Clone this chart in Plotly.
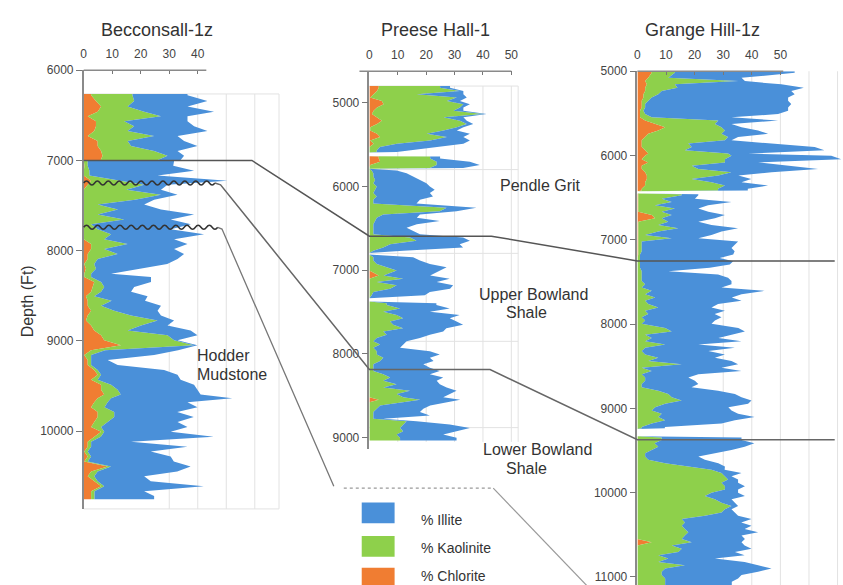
import plotly.graph_objects as go

W, H = 843, 585

# ---------------- Becconsall-1z ----------------
BEC_DEPTH = [
    6263, 6277, 6340, 6401, 6460, 6511, 6566, 6620, 6675, 6730,
    6785, 6840, 6894, 6949, 6995, 7007, 7059, 7113, 7168, 7226,
    7270, 7325, 7380, 7435, 7489, 7544, 7599, 7654, 7708, 7763,
    7818, 7873, 7927, 7982, 8037, 8092, 8147, 8201, 8256, 8293,
    8347, 8402, 8457, 8505, 8555, 8610, 8665, 8720, 8774, 8829,
    8884, 8939, 8993, 9048, 9103, 9158, 9212, 9267, 9322, 9377,
    9432, 9486, 9541, 9596, 9636, 9680, 9735, 9789, 9844, 9899,
    9954, 10008, 10063, 10118, 10173, 10227, 10282, 10337, 10392, 10447,
    10501, 10556, 10611, 10666, 10720, 10755,
]
BEC_CHLORITE = [
    2.6, 2.6, 4.3, 6.1, 4.9, 1.4, 4.3, 4.3, 3.7, 1.4,
    4.9, 4.9, 6.1, 6.6, 6.0, 0.0, 0.3, 0.0, 0.0, 2.6,
    1.4, 0.0, 0.0, 0.0, 0.0, 0.0, 0.0, 0.0, 0.0, 0.0,
    0.0, 0.0, 2.6, 2.6, 1.4, 1.4, 0.2, 0.8, 0.2, 0.2,
    3.7, 3.1, 2.6, 0.8, 1.4, 1.4, 2.6, 1.4, 0.8, 2.6,
    3.7, 6.1, 7.2, 13.1, 2.6, 0.2, 1.4, 1.4, 3.7, 4.9,
    2.6, 6.1, 6.1, 7.2, 4.9, 3.7, 2.6, 4.9, 4.9, 3.7,
    2.6, 6.1, 3.7, 1.4, 1.4, 0.2, 1.4, 0.2, 8.4, 2.6,
    1.4, 3.7, 6.1, 2.6, 2.6, 2.6,
]
BEC_KAOLINITE = [
    14.5, 14.5, 13.4, 9.3, 16.3, 25.7, 9.9, 13.4, 11.7, 23.3,
    10.5, 11.7, 18.6, 22.8, 20.0, 1.4, 1.1, 2.0, 2.0, 10.5,
    19.8, 15.0, 27.1, 18.0, 4.9, 12.0, 4.9, 14.2, 2.6, 4.9,
    9.6, 7.2, 12.8, 4.6, 10.5, 3.5, 3.5, 3.5, 2.4, 2.4,
    2.4, 4.1, 3.5, 2.9, 8.4, 4.7, 8.1, 15.2, 25.1, 17.5,
    11.7, 23.3, 24.5, 25.6, 4.9, 2.4, 1.2, 1.2, 1.2, 1.2,
    2.3, 3.5, 5.8, 5.8, 4.7, 4.7, 4.7, 5.8, 5.8, 4.7,
    3.5, 1.1, 2.3, 1.2, 1.2, 1.2, 1.2, 1.2, 1.2, 2.3,
    2.3, 1.2, 1.1, 1.2, 1.2, 1.2,
]
BEC_ILLITE = [
    19.3, 19.3, 25.7, 21.0, 24.5, 9.3, 22.2, 21.0, 28.0, 8.2,
    19.8, 23.3, 8.2, 5.8, 8.0, 30.3, 30.0, 36.7, 23.9, 37.3,
    8.2, 12.1, 5.8, 6.7, 16.3, 15.1, 33.8, 16.3, 35.0, 25.6,
    32.6, 24.5, 21.0, 24.5, 23.3, 28.0, 25.6, 14.5, 7.0, 21.0,
    17.5, 10.5, 10.5, 18.7, 11.7, 21.0, 15.2, 10.5, 5.8, 9.3,
    22.1, 10.5, 1.2, 1.2, 25.6, 22.1, 5.8, 9.3, 23.3, 26.8,
    29.1, 29.1, 28.0, 28.0, 42.5, 28.0, 32.6, 22.1, 27.9, 24.5,
    30.3, 23.3, 39.6, 14.0, 33.8, 22.1, 27.9, 30.2, 27.9, 27.9,
    17.5, 18.6, 34.9, 17.4, 20.9, 20.9,
]

# ---------------- Preese Hall-1 ----------------
PH_DEPTH = [
    4803, 4823, 4862, 4901, 4941, 4980, 5019, 5058, 5098, 5137,
    5176, 5216, 5255, 5294, 5334, 5373, 5412, 5452, 5491, 5530,
    5570, 5590, 5595, 5640, 5645, 5668, 5707, 5746, 5780, 5790,
    5812, 5845, 5884, 5923, 5963, 6002, 6041, 6081, 6120, 6159,
    6206, 6257, 6297, 6336, 6375, 6415, 6454, 6493, 6533, 6572,
    6611, 6650, 6690, 6729, 6768, 6795, 6815, 6847, 6886, 6926,
    6965, 7005, 7064, 7103, 7142, 7182, 7221, 7260, 7299, 7335,
    7375, 7395, 7417, 7457, 7496, 7535, 7575, 7614, 7653, 7693,
    7732, 7771, 7810, 7850, 7889, 7928, 7968, 8007, 8046, 8086,
    8125, 8164, 8204, 8243, 8282, 8321, 8361, 8400, 8439, 8479,
    8518, 8546, 8577, 8616, 8656, 8695, 8734, 8774, 8805, 8844,
    8884, 8923, 8962, 9002, 9035,
]
PH_CHLORITE = [
    3.3, 3.3, 2.7, 1.5, 0.3, 4.4, 5.0, 2.7, 1.5, 0.9,
    2.7, 4.4, 2.7, 0.3, 0.3, 2.7, 3.8, 0.3, 1.5, 0.0,
    0.0, 0.0, 0.0, 0.0, 3.3, 3.3, 3.8, 0.3, 0.0, 0.0,
    0, 0, 0, 0, 0, 0, 0, 0, 0, 0,
    0, 0, 0, 0, 0, 0, 0, 0, 0, 0,
    0, 0, 0, 0, 0, 0, 0, 0, 0, 0,
    0, 0, 3.3, 0, 0, 0, 0, 0, 0, 0,
    0, 0, 0, 0, 0, 0, 0, 0, 0, 0,
    0, 0, 0, 0, 0, 0, 0, 0, 0, 0,
    0, 0, 0, 0, 0, 0, 0, 0, 0, 0,
    0, 3.3, 0, 0, 0, 0, 0, 0, 0, 0,
    0, 0, 0, 0, 0,
]
PH_KAOLINITE = [
    21.6, 21.6, 29.2, 15.2, 30.5, 22.9, 28.1, 29.2, 28.1, 39.2,
    23.4, 27.5, 31.6, 30.5, 25.8, 17.5, 23.5, 21.1, 8.2, 3.7,
    2.6, 2.6, 0.0, 0.0, 18.1, 18.1, 19.9, 23.4, 21.3, 0.0,
    0.8, 1.4, 1.4, 2.0, 1.4, 2.6, 2.0, 1.4, 2.6, 1.4,
    1.4, 27.2, 24.8, 4.9, 2.6, 2.0, 1.4, 1.4, 1.4, 1.4,
    14.3, 16.6, 7.3, 4.9, 1.4, 0.0, 0.0, 1.4, 1.4, 2.6,
    6.1, 9.6, 1.7, 11.9, 2.6, 9.6, 7.3, 1.4, 0.8, 0.0,
    0.0, 6.1, 6.1, 10.8, 4.9, 9.6, 11.9, 7.3, 8.4, 11.9,
    4.9, 6.1, 2.6, 1.4, 3.8, 1.4, 2.6, 2.6, 4.9, 3.8,
    1.4, 1.4, 1.4, 4.9, 7.3, 4.9, 9.6, 4.9, 14.3, 9.6,
    11.9, 14.6, 10.8, 3.8, 2.6, 1.4, 1.4, 1.4, 13.1, 11.9,
    10.8, 11.9, 9.6, 10.8, 10.8,
]
PH_ILLITE = [
    3.5, 3.5, 1.2, 16.4, 3.5, 4.6, 2.3, 1.2, 3.5, 1.2,
    7.0, 2.4, 2.3, 2.3, 4.7, 15.2, 5.8, 14.0, 23.4, 21.1,
    12.0, 7.0, 0.0, 0.0, 3.5, 3.5, 11.7, 15.2, 11.7, 0.0,
    8.8, 11.7, 14.0, 15.8, 18.7, 18.7, 21.0, 19.9, 19.8, 16.4,
    15.2, 10.5, 5.9, 12.9, 14.1, 22.8, 15.3, 11.7, 14.0, 16.4,
    18.7, 18.8, 24.5, 28.1, 10.5, 0.0, 0.0, 14.0, 16.4, 18.7,
    21.1, 15.3, 16.4, 16.4, 21.1, 19.9, 21.1, 19.9, 18.7, 0.0,
    0.0, 17.5, 17.5, 17.5, 16.4, 22.2, 16.4, 23.4, 24.6, 15.2,
    21.1, 15.2, 15.2, 11.7, 8.2, 9.4, 18.7, 22.2, 16.4, 18.8,
    17.6, 19.9, 23.4, 16.4, 18.7, 18.8, 15.2, 22.3, 16.4, 18.7,
    14.1, 14.1, 16.4, 17.6, 16.4, 16.4, 19.9, 3.5, 3.5, 16.4,
    24.6, 18.7, 16.4, 19.9, 19.9,
]

# ---------------- Grange Hill-1z ----------------
GH_DEPTH = [
    5000, 5019, 5078, 5117, 5156, 5195, 5234, 5273, 5312, 5351,
    5390, 5430, 5469, 5508, 5547, 5586, 5625, 5664, 5703, 5742,
    5781, 5820, 5859, 5898, 5938, 5977, 6004, 6043, 6082, 6121,
    6160, 6199, 6238, 6278, 6317, 6356, 6395, 6415, 6425, 6450,
    6460, 6473, 6512, 6551, 6590, 6629, 6668, 6707, 6746, 6786,
    6825, 6864, 6903, 6942, 6981, 7020, 7059, 7098, 7137, 7176,
    7215, 7255, 7294, 7333, 7372, 7411, 7450, 7489, 7528, 7567,
    7606, 7645, 7684, 7724, 7763, 7802, 7841, 7880, 7919, 7958,
    7997, 8048, 8087, 8126, 8165, 8204, 8243, 8282, 8321, 8360,
    8399, 8438, 8477, 8517, 8556, 8595, 8634, 8673, 8712, 8751,
    8790, 8829, 8868, 8907, 8946, 8986, 9025, 9064, 9103, 9142,
    9181, 9220, 9235, 9245, 9330, 9345, 9376, 9415, 9455, 9494,
    9533, 9572, 9611, 9650, 9689, 9728, 9767, 9806, 9845, 9884,
    9923, 9963, 10002, 10041, 10080, 10119, 10158, 10197, 10236, 10275,
    10314, 10353, 10392, 10431, 10471, 10510, 10549, 10588, 10627, 10666,
    10705, 10744, 10783, 10822, 10861, 10900, 10939, 10978, 11018, 11057,
    11096,
]
GH_CHLORITE = [
    5.0, 5.0, 3.8, 2.7, 3.3, 2.7, 2.7, 2.1, 2.1, 1.5,
    1.5, 1.5, 0.9, 0.9, 0.9, 2.7, 6.2, 9.7, 7.3, 3.8,
    2.7, 1.5, 1.5, 1.5, 2.7, 3.8, 2.7, 1.5, 3.8, 1.5,
    1.5, 2.7, 3.3, 3.3, 2.7, 2.7, 1.5, 1.5, 0.0, 0.0,
    0.3, 0.3, 0.3, 0.3, 0.3, 0.3, 0.3, 5.0, 6.2, 0.3,
    0.3, 0.3, 0.3, 0.3, 0.3, 0.3, 0.3, 0.3, 0.3, 0.3,
    0, 0, 0, 0, 0, 0, 0, 0, 0, 0,
    0, 0, 0, 0, 0, 0, 0, 0, 0, 0,
    0, 0, 0, 0, 0, 0, 0, 0, 0, 0,
    0, 0, 0, 0, 0, 0, 0, 0, 0, 0,
    0, 0, 0, 0, 0, 0, 0, 0, 0, 0,
    0, 0, 0, 0, 0, 0, 0, 0, 0, 0,
    0, 0, 0, 0, 0, 0, 0, 0, 0, 0,
    0, 0, 0, 0, 0, 0, 0, 0, 0, 0,
    0, 0, 0, 0, 0, 0, 0, 5.0, 0, 0,
    0, 0, 0, 0, 0, 0, 0, 0, 0, 0,
    0,
]
GH_KAOLINITE = [
    8.1, 8.1, 7.0, 32.6, 9.8, 11.3, 5.8, 5.2, 2.9, 2.3,
    1.2, 1.2, 1.2, 1.8, 4.1, 25.6, 20.9, 19.7, 23.3, 25.6,
    29.0, 29.1, 16.3, 17.5, 13.9, 27.9, 30.2, 29.1, 26.8, 17.5,
    19.8, 30.2, 25.0, 15.6, 23.2, 27.9, 26.7, 26.7, 0.0, 0.0,
    15.2, 15.2, 8.2, 11.7, 5.8, 12.8, 8.2, 7.0, 2.3, 10.5,
    7.0, 14.0, 7.0, 2.4, 11.7, 1.2, 1.2, 1.2, 1.2, 0.6,
    0.9, 0.9, 0.9, 0.9, 1.5, 1.5, 1.5, 1.5, 2.7, 1.5,
    5.0, 2.7, 6.2, 2.7, 3.8, 7.3, 2.7, 3.8, 1.5, 2.7,
    1.5, 9.7, 12.0, 2.7, 5.0, 2.7, 9.7, 2.7, 1.5, 2.7,
    7.3, 3.8, 15.5, 1.5, 5.0, 1.5, 2.7, 2.7, 1.5, 1.5,
    7.3, 10.8, 12.0, 15.5, 9.7, 6.2, 5.0, 8.5, 7.3, 9.7,
    5.0, 1.5, 1.5, 0.0, 0.0, 8.5, 8.5, 6.0, 7.3, 5.0,
    2.7, 2.7, 3.8, 9.7, 17.8, 25.9, 29.4, 30.6, 31.7, 29.4,
    30.6, 30.6, 25.9, 23.6, 27.1, 29.4, 32.9, 30.6, 29.4, 23.6,
    15.5, 16.6, 15.5, 16.6, 17.8, 16.6, 15.5, 14.0, 12.0, 15.5,
    14.3, 7.3, 10.8, 7.3, 16.6, 9.7, 8.5, 8.5, 9.7, 9.7,
    9.7,
]
GH_ILLITE = [
    41.9, 41.9, 25.6, 2.3, 37.2, 44.2, 45.3, 47.7, 47.7, 48.9,
    51.1, 50.0, 50.6, 46.5, 27.9, 20.9, 5.8, 7.0, 11.6, 16.3,
    3.5, 2.3, 29.1, 43.0, 48.8, 7.0, 34.9, 40.7, 11.6, 34.9,
    41.9, 14.0, 7.0, 20.9, 10.5, 15.1, 10.4, 10.4, 0.0, 0.0,
    5.8, 5.8, 11.6, 20.9, 18.6, 8.2, 16.3, 18.6, 18.6, 10.5,
    18.6, 20.9, 22.1, 23.2, 9.3, 33.7, 32.5, 31.4, 32.5, 32.6,
    27.9, 32.6, 31.4, 24.4, 9.3, 26.7, 30.2, 31.4, 30.2, 27.9,
    39.5, 33.7, 26.8, 33.7, 24.4, 18.6, 27.9, 23.2, 27.9, 24.4,
    24.4, 25.6, 25.6, 30.2, 23.3, 33.7, 11.6, 31.4, 23.3, 27.9,
    19.8, 29.1, 19.7, 27.9, 31.4, 19.8, 15.1, 17.4, 19.8, 17.4,
    20.9, 23.3, 24.4, 24.4, 29.0, 25.6, 27.9, 26.7, 33.7, 24.4,
    24.4, 8.1, 8.1, 0.0, 0.0, 27.9, 27.9, 34.9, 30.2, 27.9,
    24.4, 18.6, 19.8, 18.6, 12.8, 4.6, 7.0, 2.3, 3.5, 5.8,
    7.0, 4.6, 9.3, 14.0, 5.8, 4.7, 2.3, 2.3, 4.7, 11.6,
    24.4, 19.7, 24.4, 20.9, 24.4, 19.8, 22.1, 17.4, 25.5, 24.4,
    19.8, 30.2, 16.3, 30.2, 25.6, 37.2, 33.7, 27.9, 25.5, 23.3,
    23.3,
]

WELL_NAMES = ["Becconsall-1z", "Preese Hall-1", "Grange Hill-1z"]
WELLS = [
    (BEC_DEPTH, BEC_CHLORITE, BEC_KAOLINITE, BEC_ILLITE),
    (PH_DEPTH, PH_CHLORITE, PH_KAOLINITE, PH_ILLITE),
    (GH_DEPTH, GH_CHLORITE, GH_KAOLINITE, GH_ILLITE),
]
X_TICKS = [[0, 10, 20, 30, 40], [0, 10, 20, 30, 40, 50], [0, 10, 20, 30, 40, 50]]
Y_TICKS = [
    [6000, 7000, 8000, 9000, 10000],
    [5000, 6000, 7000, 8000, 9000],
    [5000, 6000, 7000, 8000, 9000, 10000, 11000],
]
MINERALS = ["% Chlorite", "% Kaolinite", "% Illite"]
COLORS = {"% Illite": "#4a90d9", "% Kaolinite": "#8ed04b", "% Chlorite": "#f07d32"}

# correlated tops (ft) in each well
TOP_A = [7000, 6595, 7251]
TOP_B = [7250, 8187, 9373]
TOP_C_BEC = 7741

for d, *vals in WELLS:
    for v in vals:
        if len(v) != len(d):
            raise ValueError("series length mismatch")

# subplot boxes in pixels (left, right, top, bottom) and axis ranges
PANELS = [
    dict(box=(81, 277, 64, 508), xr=(0, 68.5), yr=(10863, 6000)),
    dict(box=(367.7, 517, 65, 447), xr=(0, 52.4), yr=(9131, 4626)),
    dict(box=(636.7, 843, 65, 585), xr=(0, 71.9), yr=(11096, 5000)),
]

FONT = "Liberation Sans, Arial, sans-serif"
TXT = "#3a3a3a"


def to_px(p, x, depth):
    l, r, t, b = PANELS[p]["box"]
    x0, x1 = PANELS[p]["xr"]
    ybot, ytop = PANELS[p]["yr"]
    return (l + (x - x0) / (x1 - x0) * (r - l),
            t + (depth - ytop) / (ybot - ytop) * (b - t))


def fx(px):
    return px / W


def fy(py):
    return 1 - py / H


def pt(px, py):
    return f"{fx(px):.5f},{fy(py):.5f}"


def polyline(points):
    return "M " + " L ".join(pt(*q) for q in points)


def wavy(p, x_from, x_to, depth, amp=2.0, wl=11.0):
    xa, y = to_px(p, x_from, depth)
    xb, _ = to_px(p, x_to, depth)
    n = max(1, int(round((xb - xa) / (wl / 2))))
    step = (xb - xa) / n
    parts = ["M " + pt(xa, y)]
    for k in range(n):
        x0 = xa + k * step
        sign = -1 if k % 2 == 0 else 1
        parts.append("Q " + pt(x0 + step / 2, y + sign * 2 * amp) + " " + pt(x0 + step, y))
    return " ".join(parts)


fig = go.Figure()
layout = dict(
    width=W, height=H, margin=dict(l=0, r=0, t=0, b=0),
    paper_bgcolor="white", plot_bgcolor="rgba(0,0,0,0)",
    showlegend=False, font=dict(family=FONT, color=TXT),
)

shapes = []
annotations = []

for i, (depth, chl, kao, ill) in enumerate(WELLS):
    sfx = "" if i == 0 else str(i + 1)
    for name, vals in zip(MINERALS, (chl, kao, ill)):
        fig.add_trace(go.Scatter(
            x=vals, y=depth, mode="lines", name=name,
            stackgroup=f"well{i}", orientation="h",
            line=dict(width=0, color=COLORS[name]), fillcolor=COLORS[name],
            xaxis=f"x{sfx}", yaxis=f"y{sfx}", hoverinfo="skip",
        ))
    l, r, t, b = PANELS[i]["box"]
    layout[f"xaxis{sfx}"] = dict(
        domain=[fx(l), fx(r)], range=list(PANELS[i]["xr"]), side="top",
        anchor=f"y{sfx}", tickvals=X_TICKS[i], ticktext=[str(v) for v in X_TICKS[i]],
        ticks="inside", ticklen=4, ticklabelstandoff=9,
        tickcolor="#777", showgrid=False, zeroline=False, showline=False,
        tickfont=dict(size=12, color="#444", family=FONT),
    )
    layout[f"yaxis{sfx}"] = dict(
        domain=[fy(b), fy(t)], range=list(PANELS[i]["yr"]), anchor=f"x{sfx}",
        tickvals=Y_TICKS[i], ticktext=[str(v) for v in Y_TICKS[i]],
        ticks="outside", ticklen=6, tickcolor="#777",
        showline=True, linecolor="#8a8a8a", linewidth=1.5,
        showgrid=False, zeroline=False,
        tickfont=dict(size=12, color="#444", family=FONT),
    )
    annotations.append(dict(
        text=WELL_NAMES[i], xref="paper", yref="paper",
        x=fx([155, 434, 702][i]), y=fy(23), xanchor="center", yanchor="middle",
        showarrow=False, font=dict(size=18, color="#333", family=FONT),
    ))

# light grid frames behind the curves
GRID = "#e2e2e2"
grid_specs = [
    (0, [30, 40, 50, 60, 68.5], 6263, 10863, [6263, 10863]),
    (1, [10, 20, 30, 40, 50, 52.4], 4803, 9050, [4803, 5800, 6800, 7850, 8880]),
    (2, [30, 40, 50, 60, 70], 5000, 11096, []),
]
for p, xs, d_top, d_bot, hlines in grid_specs:
    for xv in xs:
        a = to_px(p, xv, d_top)
        c = to_px(p, xv, d_bot)
        shapes.append(dict(type="path", path=polyline([a, c]), xref="paper", yref="paper",
                           layer="below", line=dict(color=GRID, width=1)))
    for dv in hlines:
        a = to_px(p, 0, dv)
        c = to_px(p, PANELS[p]["xr"][1], dv)
        shapes.append(dict(type="path", path=polyline([a, c]), xref="paper", yref="paper",
                           layer="below", line=dict(color=GRID, width=1)))

# short top axis lines carrying the percentage ticks
for p, (xa, xb) in enumerate([(0, 43), (-3.5, 50), (0, 51)]):
    ytop = PANELS[p]["yr"][1]
    shapes.append(dict(type="path", path=polyline([to_px(p, xa, ytop), to_px(p, xb, ytop)]),
                       xref="paper", yref="paper", line=dict(color="#8a8a8a", width=1.5)))

# correlation lines between the wells
LINE = "#555555"
shapes.append(dict(type="path", xref="paper", yref="paper", line=dict(color=LINE, width=1.5),
                   path=polyline([to_px(0, 0, TOP_A[0]), to_px(0, 59, TOP_A[0]),
                                  to_px(1, 0, TOP_A[1]), to_px(1, 43, TOP_A[1]),
                                  to_px(2, 0, TOP_A[2]), to_px(2, 69, TOP_A[2])])))
shapes.append(dict(type="path", xref="paper", yref="paper", line=dict(color="#333", width=1.5),
                   path=wavy(0, 0, 46, TOP_B[0])))
shapes.append(dict(type="path", xref="paper", yref="paper", line=dict(color="#666", width=1.5),
                   path=polyline([to_px(0, 46, TOP_B[0]), to_px(0, 48, TOP_B[0] + 20),
                                  to_px(1, 0, TOP_B[1]), to_px(1, 42.5, TOP_B[1]),
                                  to_px(2, 0, TOP_B[2]), to_px(2, 69, TOP_B[2])])))
shapes.append(dict(type="path", xref="paper", yref="paper", line=dict(color="#333", width=1.5),
                   path=wavy(0, 0, 47, TOP_C_BEC)))
shapes.append(dict(type="path", xref="paper", yref="paper", line=dict(color="#777", width=1.3),
                   path=polyline([to_px(0, 47, TOP_C_BEC), to_px(0, 48.5, TOP_C_BEC + 20),
                                  (332, 485)])))
shapes.append(dict(type="path", xref="paper", yref="paper",
                   line=dict(color="#999", width=1.2, dash="dot"),
                   path=polyline([(342, 487), (492, 487)])))
shapes.append(dict(type="path", xref="paper", yref="paper", line=dict(color="#999", width=1.2),
                   path=polyline([(492, 487), (592, 592)])))


# formation names
def label(text, px, py, anchor="center"):
    annotations.append(dict(text=text, xref="paper", yref="paper", x=fx(px), y=fy(py),
                            xanchor=anchor, yanchor="middle", showarrow=False,
                            font=dict(size=16, color="#333", family=FONT)))


label("Pendle Grit", 539, 181)
label("Upper Bowland", 532, 291)
label("Shale", 525, 309)
label("Hodder", 193, 353, "left")
label("Mudstone", 193, 372, "left")
label("Lower Bowland", 536, 448)
label("Shale", 525, 467)

annotations.append(dict(text="Depth (Ft)", xref="paper", yref="paper", x=fx(25), y=fy(298),
                        xanchor="center", yanchor="middle", textangle=-90, showarrow=False,
                        font=dict(size=16, color="#333", family=FONT)))

# legend swatches
for name, py, ty in [("% Illite", 512, 519), ("% Kaolinite", 546, 548), ("% Chlorite", 578, 576)]:
    shapes.append(dict(type="rect", xref="paper", yref="paper",
                       x0=fx(360), x1=fx(393), y0=fy(py - 10.5), y1=fy(py + 10.5),
                       fillcolor=COLORS[name], line=dict(width=0)))
    annotations.append(dict(text=name, xref="paper", yref="paper", x=fx(417), y=fy(ty),
                            xanchor="left", yanchor="middle", showarrow=False,
                            font=dict(size=14, color="#333", family=FONT)))

layout["shapes"] = shapes
layout["annotations"] = annotations
fig.update_layout(**layout)
fig.write_html("out.html")
